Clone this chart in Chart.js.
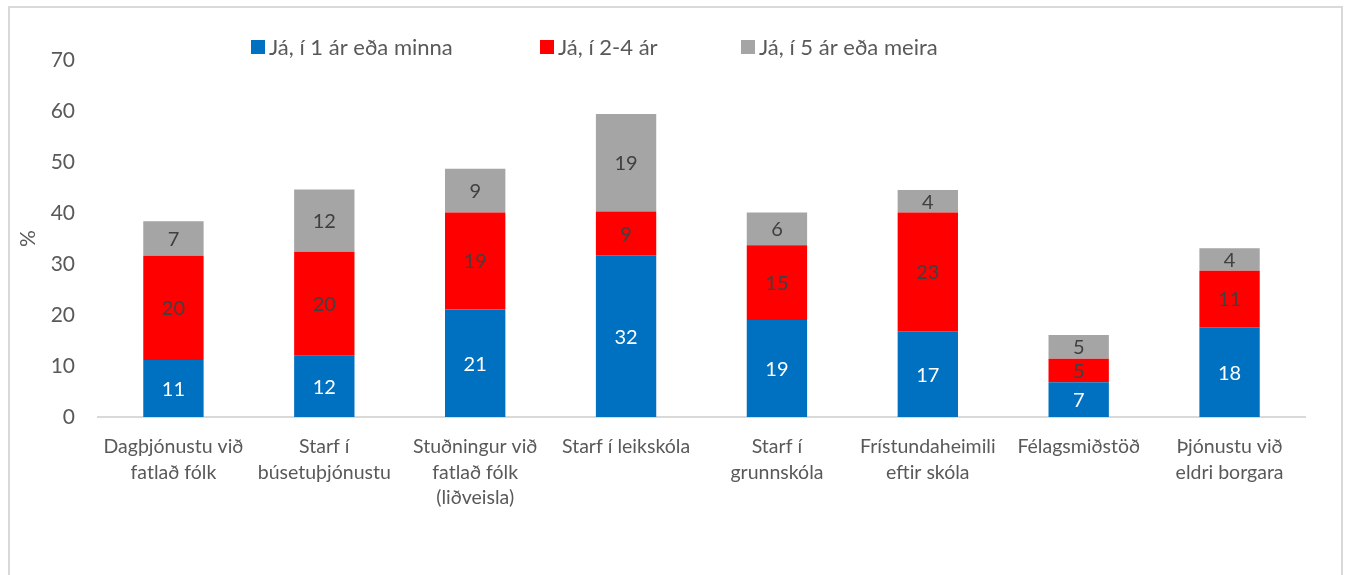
<!DOCTYPE html>
<html>
<head>
<meta charset="utf-8">
<script src="https://cdn.jsdelivr.net/npm/chart.js@4.4.1/dist/chart.umd.min.js"></script>
<style>
  html, body { margin: 0; padding: 0; background: #ffffff; }
  body { width: 1349px; height: 575px; position: relative; overflow: hidden; }
  #frame { position: absolute; left: 8px; top: 6px; width: 1335px; height: 600px; border: 2px solid #d9d9d9; box-sizing: border-box; }
  #wrap { position: absolute; left: 0; top: 0; width: 1349px; height: 575px; }
</style>
</head>
<body>
<div id="frame"></div>
<div id="wrap"><canvas id="c" width="1349" height="575"></canvas></div>
<script>
const categories = [
  ["Dagþjónustu við", "fatlað fólk"],
  ["Starf í", "búsetuþjónustu"],
  ["Stuðningur við", "fatlað fólk", "(liðveisla)"],
  ["Starf í leikskóla"],
  ["Starf í", "grunnskóla"],
  ["Frístundaheimili", "eftir skóla"],
  ["Félagsmiðstöð"],
  ["Þjónustu við", "eldri borgara"]
];
const seriesNames = ["Já, í 1 ár eða minna", "Já, í 2-4 ár", "Já, í 5 ár eða meira"];
const oneYearOrLess = [11.2, 12.0, 21.1, 31.7, 19.0, 16.8, 6.8, 17.6];
const twoToFourYears = [20.4, 20.4, 19.0, 8.6, 14.7, 23.3, 4.6, 11.1];
const fiveYearsOrMore = [6.8, 12.2, 8.6, 19.1, 6.4, 4.4, 4.7, 4.4];
const yTicks = [0, 10, 20, 30, 40, 50, 60, 70];

const colors = ["#0070C0", "#FF0000", "#A5A5A5"];
const labelColors = ["#FFFFFF", "#404040", "#404040"];
const FONT = "Lato, 'Open Sans', sans-serif";

const valueLabels = {
  id: 'valueLabels',
  afterDatasetsDraw(chart) {
    const ctx = chart.ctx;
    ctx.save();
    ctx.font = "20px " + FONT;
    ctx.textAlign = 'center';
    ctx.textBaseline = 'middle';
    chart.data.datasets.forEach((ds, di) => {
      const meta = chart.getDatasetMeta(di);
      meta.data.forEach((el, i) => {
        const v = ds.data[i];
        const yMid = (el.y + el.base) / 2;
        ctx.fillStyle = labelColors[di];
        ctx.fillText(String(Math.round(v)), el.x, yMid + 1);
      });
    });
    ctx.restore();
  }
};

const legendStarts = [251, 540, 741];
const customLegend = {
  id: 'customLegend',
  afterDraw(chart) {
    const ctx = chart.ctx;
    ctx.save();
    ctx.font = "22px " + FONT;
    ctx.textBaseline = 'middle';
    ctx.textAlign = 'left';
    const y = 47;
    chart.data.datasets.forEach((ds, di) => {
      const x = legendStarts[di];
      ctx.fillStyle = ds.backgroundColor;
      ctx.fillRect(x, y - 7, 14, 14);
      ctx.fillStyle = "#595959";
      ctx.fillText(ds.label, x + 18, y + 1);
    });
    ctx.restore();
  }
};

const datasets = [oneYearOrLess, twoToFourYears, fiveYearsOrMore].map((d, i) => ({
  label: seriesNames[i],
  data: d,
  backgroundColor: colors[i],
  borderWidth: 0,
  barPercentage: 0.4,
  categoryPercentage: 1.0
}));

new Chart(document.getElementById('c'), {
  type: 'bar',
  data: { labels: categories, datasets },
  options: {
    responsive: false,
    animation: false,
    devicePixelRatio: 1,
    layout: { padding: { left: 0, right: 44, top: 60, bottom: 0 } },
    plugins: {
      legend: { display: false },
      tooltip: { enabled: false }
    },
    scales: {
      x: {
        stacked: true,
        grid: { display: false, drawTicks: false },
        border: { display: true, color: '#d9d9d9', width: 2 },
        ticks: {
          color: '#595959',
          font: { family: FONT, size: 19.5, lineHeight: 1.31 },
          padding: 17,
          maxRotation: 0,
          autoSkip: false
        },
        afterFit(scale) { scale.height = 575 - 417; }
      },
      y: {
        stacked: true,
        min: 0,
        max: 70,
        afterBuildTicks(scale) { scale.ticks = yTicks.map(v => ({ value: v })); },
        grid: { display: false, drawTicks: false },
        border: { display: false },
        ticks: {
          color: '#595959',
          font: { family: FONT, size: 21 },
          padding: 23
        },
        title: {
          display: true,
          text: '%',
          color: '#595959',
          font: { family: FONT, size: 21 },
          padding: { top: 16, bottom: 0 }
        },
        afterFit(scale) { scale.width = 98; }
      }
    }
  },
  plugins: [valueLabels, customLegend]
});
</script>
</body>
</html>
